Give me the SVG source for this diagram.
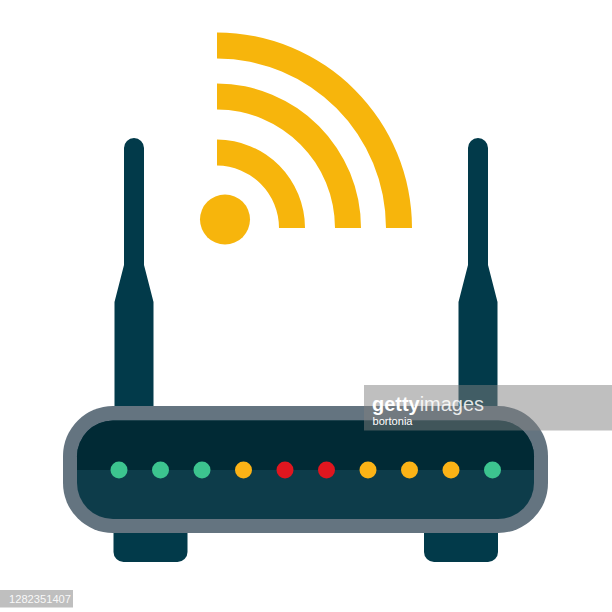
<svg xmlns="http://www.w3.org/2000/svg" width="612" height="612" viewBox="0 0 612 612">
<style>
.arc{fill:#f7b50c}
.ant{fill:#023a4a}
.g{fill:#3cc48f}.y{fill:#fbb316}.r{fill:#e0161f}
.wm{fill:#808080;fill-opacity:.5}
text{fill:#fff;font-family:"Liberation Sans",Arial,sans-serif}
</style>
<rect width="612" height="612" fill="#fff"/>
<g id="wifi">
<path class="arc" d="M217 32.500A195.500 195.500 0 0 1 412 228H386A169.500 169.500 0 0 0 217 58.500Z"/>
<path class="arc" d="M217 83.500A144.500 144.500 0 0 1 361 228H335A118.500 118.500 0 0 0 217 109.500Z"/>
<path class="arc" d="M217 139.500A88.500 88.500 0 0 1 305 228H279A62.500 62.500 0 0 0 217 165.500Z"/>
<circle class="arc" cx="225" cy="219.500" r="25"/>
</g>
<g id="antenna-left"><path class="ant" d="M124 148a10 10 0 0 1 20 0V265L153.500 302V410H114.500V302L124 265Z"/></g>
<g id="antenna-right"><path class="ant" d="M468 148a10 10 0 0 1 20 0V265L497.500 302V410H458.500V302L468 265Z"/></g>
<g id="feet">
<path class="ant" d="M113.500 530H187.500V552a10 10 0 0 1-10 10H123.500a10 10 0 0 1-10-10Z"/>
<path class="ant" d="M424 530H498V552a10 10 0 0 1-10 10H434a10 10 0 0 1-10-10Z"/>
</g>
<g id="router">
<rect x="63" y="406" width="485" height="127" rx="50" fill="#647480"/>
<rect x="77" y="420.500" width="457" height="98.500" rx="36" fill="#0d3c4a"/>
<path d="M77 470V456.500a36 36 0 0 1 36-36H498a36 36 0 0 1 36 36V470Z" fill="#012a35"/>
</g>
<g id="leds">
<circle class="g" cx="119" cy="470" r="8.500"/><circle class="g" cx="160.500" cy="470" r="8.500"/><circle class="g" cx="202" cy="470" r="8.500"/>
<circle class="y" cx="243.500" cy="470" r="8.500"/><circle class="r" cx="285" cy="470" r="8.500"/><circle class="r" cx="326.500" cy="470" r="8.500"/>
<circle class="y" cx="368" cy="470" r="8.500"/><circle class="y" cx="409.500" cy="470" r="8.500"/><circle class="y" cx="451" cy="470" r="8.500"/><circle class="g" cx="492.500" cy="470" r="8.500"/>
</g>
<g id="watermark">
<rect class="wm" x="364" y="385" width="248" height="45.500"/>
<rect class="wm" x="0" y="590" width="73" height="17.500"/>
<text x="372" y="411" font-size="20.500" textLength="112" lengthAdjust="spacingAndGlyphs"><tspan font-weight="700">getty</tspan><tspan fill-opacity=".85">images</tspan></text>
<text x="372.500" y="425" font-size="11.500" textLength="40" lengthAdjust="spacingAndGlyphs">bortonia</text>
<text x="9" y="603" font-size="11" fill-opacity=".9" textLength="62" lengthAdjust="spacingAndGlyphs">1282351407</text>
</g>
</svg>
